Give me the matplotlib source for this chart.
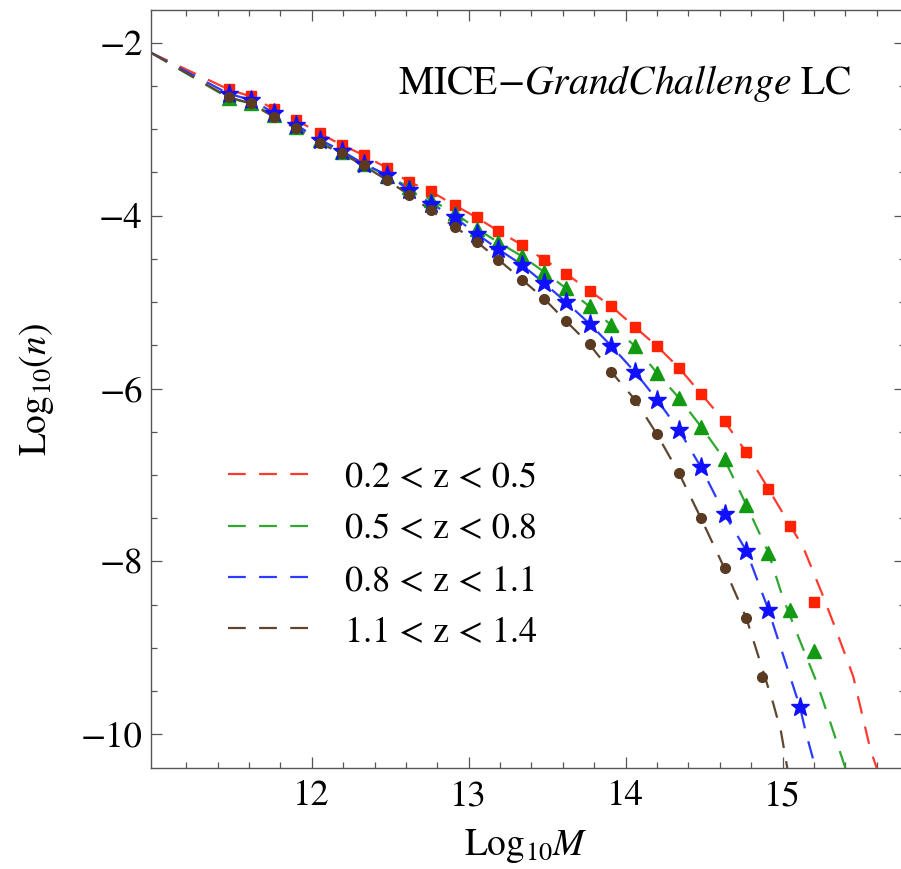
import numpy as np
import matplotlib
matplotlib.use("Agg")
import matplotlib.pyplot as plt
from matplotlib.lines import Line2D
from matplotlib.ticker import FixedLocator, MultipleLocator

plt.rcParams['font.family'] = ['STIXGeneral', 'DejaVu Serif']
plt.rcParams['mathtext.fontset'] = 'stix'

mass_bins = [11.47, 11.61, 11.76, 11.90, 12.05, 12.19, 12.33, 12.48, 12.62,
             12.76, 12.91, 13.05, 13.19, 13.34, 13.48, 13.62, 13.77, 13.91,
             14.06, 14.20, 14.34, 14.48, 14.63, 14.77, 14.91, 15.05, 15.20]

n_z1 = [-2.54, -2.62, -2.77, -2.89, -3.05, -3.18, -3.30, -3.45, -3.61, -3.72,
        -3.88, -4.02, -4.18, -4.34, -4.51, -4.67, -4.87, -5.05, -5.29, -5.51,
        -5.76, -6.06, -6.38, -6.74, -7.16, -7.59, -8.47]
n_z2 = [-2.64, -2.70, -2.84, -2.97, -3.13, -3.26, -3.40, -3.54, -3.67, -3.82,
        -3.97, -4.15, -4.31, -4.47, -4.65, -4.84, -5.05, -5.27, -5.51, -5.82,
        -6.11, -6.44, -6.82, -7.35, -7.90, -8.56, -9.04]
m_z3 = mass_bins[:25] + [15.11]
n_z3 = [-2.59, -2.66, -2.81, -2.95, -3.12, -3.25, -3.40, -3.53, -3.70, -3.86,
        -4.02, -4.21, -4.39, -4.57, -4.78, -5.00, -5.25, -5.51, -5.81, -6.13,
        -6.48, -6.91, -7.45, -7.88, -8.56, -9.68]
m_z4 = mass_bins[:24] + [14.87]
n_z4 = [-2.63, -2.70, -2.86, -2.99, -3.16, -3.28, -3.42, -3.59, -3.76, -3.94,
        -4.13, -4.30, -4.51, -4.74, -4.96, -5.22, -5.49, -5.81, -6.13, -6.53,
        -6.98, -7.50, -8.08, -8.66, -9.34]

# fitted curves (dashed)
fit1_x = [10.98] + mass_bins[:26] + [15.13, 15.26, 15.34, 15.45, 15.56, 15.60]
fit1_y = [-2.12] + n_z1[:26] + [-7.83, -8.41, -8.79, -9.33, -10.18, -10.39]
fit2_x = [10.98] + mass_bins[:25] + [15.00, 15.10, 15.22, 15.30, 15.40]
fit2_y = [-2.12] + n_z2[:25] + [-8.41, -8.87, -9.41, -9.84, -10.39]
fit3_x = [10.98] + m_z3 + [15.15, 15.21]
fit3_y = [-2.12] + n_z3 + [-9.99, -10.39]
fit4_x = [10.98] + m_z4[:24] + [14.94, 14.99, 15.03]
fit4_y = [-2.12] + n_z4[:24] + [-9.64, -9.97, -10.39]

labels = ["0.2 < z < 0.5", "0.5 < z < 0.8", "0.8 < z < 1.1", "1.1 < z < 1.4"]
x_ticks = [12, 13, 14, 15]
line_colors = ["#ff3b30", "#2ea82e", "#2b3bff", "#5e4630"]
mark_colors = ["#ff2200", "#139a13", "#1010ff", "#5a3a20"]
markers = ["s", "^", "*", "o"]
msizes = [7, 9.5, 14, 7]

fig = plt.figure(figsize=(9.01, 8.69), dpi=100)
ax = fig.add_axes([151 / 901, 1 - 767.7 / 869, 754 / 901, 757.4 / 869])

fits = [(fit1_x, fit1_y), (fit2_x, fit2_y), (fit3_x, fit3_y), (fit4_x, fit4_y)]
points = [(mass_bins, n_z1), (mass_bins, n_z2), (m_z3, n_z3), (m_z4, n_z4)]

for i in range(4):
    fx, fy = fits[i]
    ax.plot(fx, fy, color=line_colors[i], lw=1.6, ls=(0, (8, 6)), zorder=2)
for i in range(4):
    px, py = points[i]
    ax.plot(px, py, ls="none", marker=markers[i], ms=msizes[i],
            color=mark_colors[i], mec=mark_colors[i], zorder=3)

ax.set_xlim(10.976, 15.78)
ax.set_ylim(-10.386, -1.625)
ax.xaxis.set_major_locator(FixedLocator(x_ticks))
ax.xaxis.set_minor_locator(FixedLocator(np.arange(11.2, 15.7, 0.2)))
ax.yaxis.set_major_locator(MultipleLocator(2))
ax.yaxis.set_minor_locator(MultipleLocator(0.5))
ax.tick_params(which="both", direction="in", top=True, right=True,
               color="#555555", width=0.9)
ax.tick_params(which="major", length=8, labelsize=26.5)
ax.tick_params(which="minor", length=4.5)
ax.tick_params(axis="x", pad=9)
ax.tick_params(axis="y", pad=6)
for s in ax.spines.values():
    s.set_color("#555555")
    s.set_linewidth(1.0)

fig.text(526 / 901, 1 - 846 / 869, r"Log$_{10}M$", fontsize=27,
         ha="center", va="center")
fig.text(37 / 901, 1 - 390 / 869, r"Log$_{10}$($n$)", fontsize=27,
         ha="center", va="center", rotation=90)

ax.text(0.930, 0.903, r"MICE$-\mathit{GrandChallenge}$ LC", fontsize=28.5,
        ha="right", va="center", transform=ax.transAxes)

handles = [Line2D([], [], color=line_colors[i], lw=1.6, ls=(0, (8, 6)))
           for i in range(4)]
ax.legend(handles, labels, loc="upper left", bbox_to_anchor=(0.102, 0.404),
          frameon=False, fontsize=26, handlelength=2.3, handletextpad=0.95,
          labelspacing=0.5, borderpad=0, borderaxespad=0)

fig.savefig("out.png", dpi=100)
